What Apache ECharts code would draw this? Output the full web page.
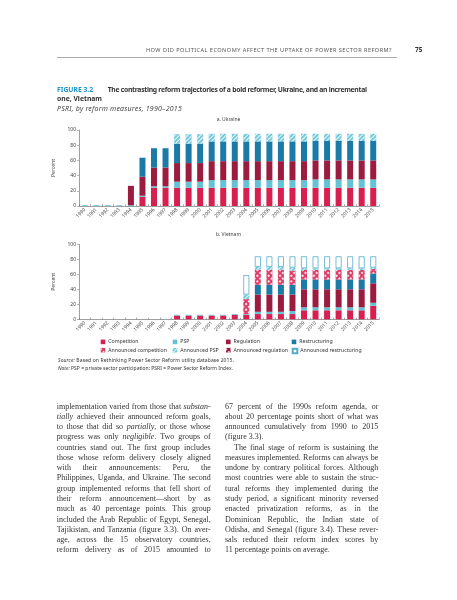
<!DOCTYPE html>
<html><head><meta charset="utf-8">
<script src="https://cdn.jsdelivr.net/npm/echarts@6/dist/echarts.min.js"></script>
<style>
html,body{margin:0;padding:0;background:#fff;}
#page{position:relative;width:457px;height:600px;overflow:hidden;background:#fff;}
#chart{position:absolute;left:0;top:0;width:457px;height:600px;}
.t{position:absolute;white-space:nowrap;font-family:"Noto Sans","Open Sans",sans-serif;color:#333;}
.hdr{font-size:5.6px;line-height:8px;color:#555;}
.ttl{font-size:6.8px;line-height:9px;font-weight:bold;color:#333;}
.sub{font-size:7px;line-height:9px;font-style:italic;color:#444;}
.src{font-size:5px;line-height:7px;color:#333;}
.col{position:absolute;font-family:"Liberation Serif","Times New Roman",serif;font-size:8px;color:#333;}
.ln{white-space:nowrap;height:10.27px;line-height:10.27px;}
.ln span{display:inline-block;}
</style></head>
<body><div id="page">
<div id="chart"></div>

<div class="t hdr" id="hdr" style="left:146px;top:46px;">HOW DID POLITICAL ECONOMY AFFECT THE UPTAKE OF POWER SECTOR REFORM?</div>
<div class="t hdr" style="left:415px;top:46px;font-weight:bold;font-size:6.5px;color:#333;">75</div>
<div style="position:absolute;left:57px;top:56.7px;width:340px;height:0.7px;background:#aaa;"></div>

<div class="t ttl" style="left:57px;top:85px;color:#1e92c9;">FIGURE 3.2</div>
<div class="t ttl" id="ttl1" style="left:107.7px;top:85px;">The contrasting reform trajectories of a bold reformer, Ukraine, and an incremental</div>
<div class="t ttl" style="left:57px;top:93.8px;">one, Vietnam</div>
<div class="t sub" id="sub" style="left:57px;top:103.8px;">PSRI, by reform measures, 1990–2015</div>

<div class="t src" id="src1" style="left:58px;top:356.5px;"><i>Source:</i> Based on Rethinking Power Sector Reform utility database 2015.</div>
<div class="t src" id="src2" style="left:58px;top:364.8px;"><i>Note:</i> PSP = private sector participation; PSRI = Power Sector Reform Index.</div>

<div class="col" id="colL" style="left:56.7px;top:401.6px;width:154px;">
<div class="ln j"><span>implementation varied from those that <i>substan-</i></span></div>
<div class="ln j"><span><i>tially</i> achieved their announced reform goals,</span></div>
<div class="ln j"><span>to those that did so <i>partially</i>, or those whose</span></div>
<div class="ln j"><span>progress was only <i>negligible</i>. Two groups of</span></div>
<div class="ln j"><span>countries stand out. The first group includes</span></div>
<div class="ln j"><span>those whose reform delivery closely aligned</span></div>
<div class="ln j"><span>with their announcements: Peru, the</span></div>
<div class="ln j"><span>Philippines, Uganda, and Ukraine. The second</span></div>
<div class="ln j"><span>group implemented reforms that fell short of</span></div>
<div class="ln j"><span>their reform announcement—short by as</span></div>
<div class="ln j"><span>much as 40 percentage points. This group</span></div>
<div class="ln j"><span>included the Arab Republic of Egypt, Senegal,</span></div>
<div class="ln j"><span>Tajikistan, and Tanzania (figure 3.3). On aver-</span></div>
<div class="ln j"><span>age, across the 15 observatory countries,</span></div>
<div class="ln j"><span>reform delivery as of 2015 amounted to</span></div>
</div>

<div class="col" id="colR" style="left:225px;top:401.6px;width:153.3px;">
<div class="ln j"><span>67 percent of the 1990s reform agenda, or</span></div>
<div class="ln j"><span>about 20 percentage points short of what was</span></div>
<div class="ln j"><span>announced cumulatively from 1990 to 2015</span></div>
<div class="ln"><span>(figure 3.3).</span></div>
<div class="ln j" data-indent="9"><span>The final stage of reform is sustaining the</span></div>
<div class="ln j"><span>measures implemented. Reforms can always be</span></div>
<div class="ln j"><span>undone by contrary political forces. Although</span></div>
<div class="ln j"><span>most countries were able to sustain the struc-</span></div>
<div class="ln j"><span>tural reforms they implemented during the</span></div>
<div class="ln j"><span>study period, a significant minority reversed</span></div>
<div class="ln j"><span>enacted privatization reforms, as in the</span></div>
<div class="ln j"><span>Dominican Republic, the Indian state of</span></div>
<div class="ln j"><span>Odisha, and Senegal (figure 3.4). These rever-</span></div>
<div class="ln j"><span>sals reduced their reform index scores by</span></div>
<div class="ln"><span>11 percentage points on average.</span></div>
</div>
</div>

<script>
// ---------- DATA ----------
const years = ['1990','1991','1992','1993','1994','1995','1996','1997','1998','1999','2000','2001','2002','2003','2004','2005','2006','2007','2008','2009','2010','2011','2012','2013','2014','2015'];
const yTicks = [0, 20, 40, 60, 80, 100];
const seriesNames = ['Competition','PSP','Regulation','Restructuring','Announced competition','Announced PSP','Announced regulation','Announced restructuring'];

// Ukraine
const ukrCompetition    = [0,0,0,0,0,12,24,24,24,24,24,24,24,24,24,24,24,24,24,24,24,24,24,24,24,24];
const ukrPSP            = [1,1,1,1,1,1.5,2,2,8,8,8,10,10,10,10,10,10,10,10,10,11,11,11,11,11,11];
const ukrRegulation     = [0,0,0,0,25.5,25,24.5,24.5,24.5,24.5,24.5,25,25,25,25,25,25,25,25,25,25,25,25,25,25,25];
const ukrRestructuring  = [0,0,0,0,0,25,25.5,25.5,25.5,25.5,25.5,26,26,26,26,26,26,26,26,26,25.5,25.5,25.5,25.5,25.5,25.5];
const ukrAnnCompetition = [0,0,0,0,0,0,0,0,0,0,0,0,0,0,0,0,0,0,0,0,0,0,0,0,0,0];
const ukrAnnPSP         = [0,0,0,0,0,0,0,0,12.5,12.5,12.5,10,10,10,10,10,10,10,10,10,9.5,9.5,9.5,9.5,9.5,9.5];
const ukrAnnRegulation  = [0,0,0,0,0,0,0,0,0,0,0,0,0,0,0,0,0,0,0,0,0,0,0,0,0,0];
const ukrAnnRestructuring = [0,0,0,0,0,0,0,0,0,0,0,0,0,0,0,0,0,0,0,0,0,0,0,0,0,0];

// Vietnam
const vnmCompetition    = [0,0,0,0,0,0,0,0,5,5,5,5,5,6,6,7,7,7,7,12,12,12,12,12,12,18];
const vnmPSP            = [0,0,0,0,0,0,0,0.5,1,1,1,1,1,1,1,3,3,3,4,4,4,4,4,4,4,4];
const vnmRegulation     = [0,0,0,0,0,0,0,0,0,0,0,0,0,0,0,23,23,23,22,24,24,24,24,24,24,26];
const vnmRestructuring  = [0,0,0,0,0,0,0,0,0,0,0,0,0,0,0,13,13,13,13,13,13,13,13,13,13,13];
const vnmAnnCompetition = [0,0,0,0,0,0,0,0,0,0,0,0,0,0,20,20,20,20,19,13,13,13,13,13,13,6];
const vnmAnnPSP         = [0,0,0,0,0,0,0,0,0,0,0,0,0,0,6,4,4,4,4,2,2,2,2,2,2,2];
const vnmAnnRegulation  = [0,0,0,0,0,0,0,0,0,0,0,0,0,0,0,0,0,0,0,0,0,0,0,0,0,0];
const vnmAnnRestructuring = [0,0,0,0,0,0,0,0,0,0,0,0,0,0,26,14,14,14,15,16,16,16,16,16,16,15];

const ukrData = [ukrCompetition, ukrPSP, ukrRegulation, ukrRestructuring, ukrAnnCompetition, ukrAnnPSP, ukrAnnRegulation, ukrAnnRestructuring];
const vnmData = [vnmCompetition, vnmPSP, vnmRegulation, vnmRestructuring, vnmAnnCompetition, vnmAnnPSP, vnmAnnRegulation, vnmAnnRestructuring];

// ---------- STYLES ----------
const FONT = '"Noto Sans","Open Sans",sans-serif';
const styles = [
  {color:'#d91f4f'},
  {color:'#62c3d6'},
  {color:'#9c1c40'},
  {color:'#1c7aa6'},
  {color:'#dc3f6a', decal:{symbol:'rect', symbolSize:1, color:'rgba(255,255,255,0.85)', dashArrayX:[1.4,1.4], dashArrayY:[1.4,1.4], rotation:Math.PI/4}},
  {color:'#74c9db', decal:{symbol:'rect', symbolSize:1, color:'rgba(255,255,255,0.85)', dashArrayX:[1,0], dashArrayY:[1,1.8], rotation:-Math.PI/4}},
  {color:'#9c1c40', decal:{symbol:'rect', symbolSize:1, color:'rgba(255,255,255,0.85)', dashArrayX:[1.4,1.4], dashArrayY:[1.4,1.4], rotation:Math.PI/4}},
  {color:'#ffffff', borderColor:'#55acc9', borderWidth:0.8}
];

const grids = [
  {left:79, top:130, width:300, height:76},
  {left:79, top:244.3, width:300, height:75}
];

function xAxis(gi){
  return {type:'category', gridIndex:gi, data:years,
    axisLine:{show:true, lineStyle:{color:'#888', width:0.8}},
    axisTick:{show:true, inside:true, length:1.6, lineStyle:{color:'#666', width:0.6}},
    axisLabel:{rotate:45, fontSize:5, color:'#444', margin:3, fontFamily:FONT, interval:0},
    splitLine:{show:false}};
}
function yAxis(gi){
  return {type:'value', gridIndex:gi, min:yTicks[0], max:yTicks[yTicks.length-1], interval:20,
    name:'Percent', nameLocation:'middle', nameRotate:90, nameGap:19,
    nameTextStyle:{fontSize:5, color:'#444', fontFamily:FONT},
    axisLine:{show:true, lineStyle:{color:'#888', width:0.8}},
    axisTick:{show:true, length:2, lineStyle:{color:'#888', width:0.6}},
    axisLabel:{fontSize:5, color:'#444', margin:3, fontFamily:FONT},
    splitLine:{show:false}};
}

const series = [];
[ukrData, vnmData].forEach((set, gi) => {
  set.forEach((arr, i) => {
    series.push({
      type:'bar', name:seriesNames[i], xAxisIndex:gi, yAxisIndex:gi, stack:'s'+gi,
      barWidth:6, data:arr.map(v => v === 0 ? '-' : v),
      itemStyle:Object.assign({}, styles[i]),
      emphasis:{disabled:true}
    });
  });
});

const legendX = [100.7, 172.7, 226, 291.7];
const legendY = [341.7, 350];
const legends = seriesNames.map((n, i) => ({
  data:[n], left:legendX[i % 4], top:legendY[Math.floor(i / 4)] - 2.3,
  itemWidth:4.6, itemHeight:4.6, itemGap:0, padding:0, icon:'rect',
  textStyle:{fontSize:5.2, color:'#333', fontFamily:FONT, padding:[0,0,0,-2]}
}));

const chart = echarts.init(document.getElementById('chart'), null, {renderer:'canvas'});
chart.setOption({
  animation:false,
  backgroundColor:'transparent',
  grid:grids,
  xAxis:[xAxis(0), xAxis(1)],
  yAxis:[yAxis(0), yAxis(1)],
  legend:legends,
  graphic:[
    {type:'text', x:228.5, y:120, style:{text:'a. Ukraine', fontSize:5, fill:'#444', fontFamily:FONT, align:'center', verticalAlign:'middle', textAlign:'center', textVerticalAlign:'middle'}},
    {type:'text', x:228.5, y:234.3, style:{text:'b. Vietnam', fontSize:5, fill:'#444', fontFamily:FONT, align:'center', verticalAlign:'middle', textAlign:'center', textVerticalAlign:'middle'}}
  ],
  series:series
});

// ---------- text fitting ----------
function fitLS(el, width){
  el.style.letterSpacing = '0px';
  const w = el.getBoundingClientRect().width;
  const n = el.textContent.length;
  el.style.letterSpacing = ((width - w) / n) + 'px';
}
fitLS(document.getElementById('hdr'), 246);
fitLS(document.getElementById('ttl1'), 259);
fitLS(document.getElementById('sub'), 125);
fitLS(document.getElementById('src1'), 176);

document.querySelectorAll('.col').forEach(col => {
  const W = parseFloat(col.style.width);
  col.querySelectorAll('.ln').forEach(ln => {
    const span = ln.firstChild;
    const ind = parseFloat(ln.dataset.indent || 0);
    if (ind) span.style.marginLeft = ind + 'px';
    if (!ln.classList.contains('j')) return;
    const w = span.getBoundingClientRect().width;
    const spaces = (span.textContent.match(/ /g) || []).length;
    if (spaces > 0) span.style.wordSpacing = ((W - ind - w) / spaces) + 'px';
  });
});
</script>
</body></html>
